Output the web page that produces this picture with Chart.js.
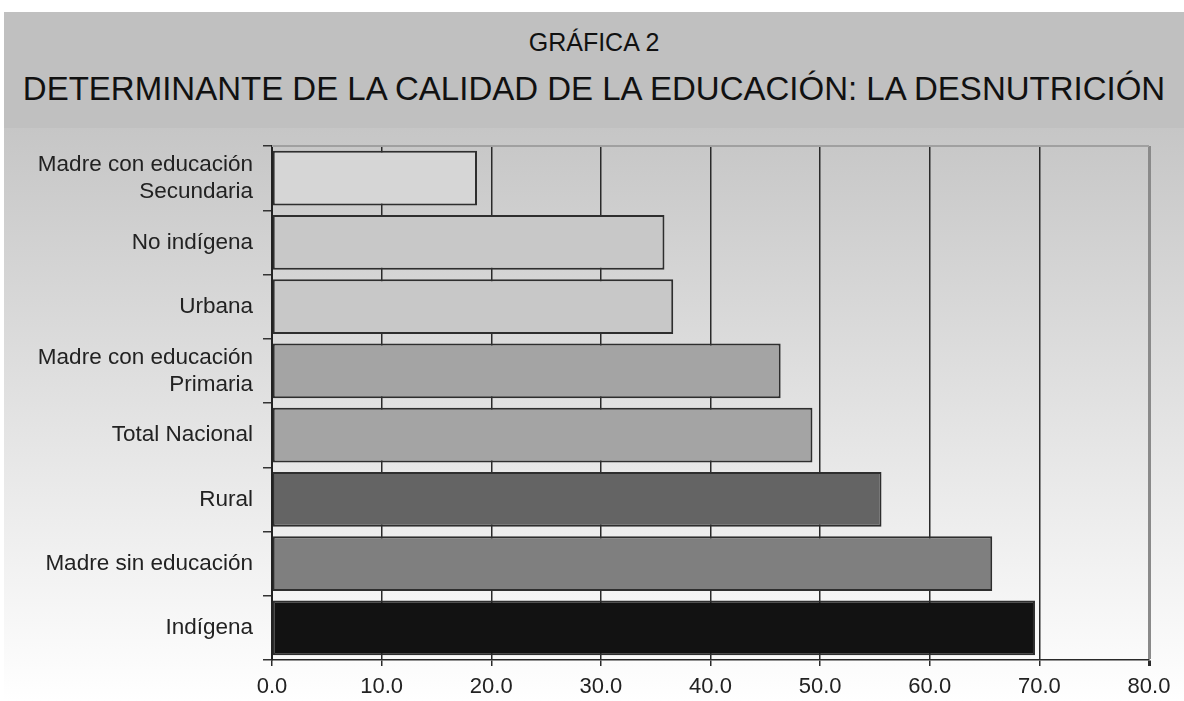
<!DOCTYPE html>
<html>
<head>
<meta charset="utf-8">
<script src="https://cdn.jsdelivr.net/npm/chart.js@4.4.1/dist/chart.umd.min.js"></script>
<style>
  html, body { margin: 0; padding: 0; background: #ffffff; }
  body { width: 1184px; height: 701px; position: relative; overflow: hidden; font-family: "Liberation Sans", Arial, sans-serif; }
  #header { position: absolute; left: 4px; top: 12px; width: 1180px; height: 116px; background: #c0c0c0; color: #111; text-align: center; }
  #t1 { position: absolute; left: 0; right: 0; top: 15px; font-size: 25px; line-height: 30px; }
  #t2 { position: absolute; left: 0; right: 0; top: 59px; font-size: 33px; line-height: 36px; }
  #wrap { position: absolute; left: 4px; top: 128px; width: 1180px; height: 573px; background: linear-gradient(#c6c6c6, #ffffff); }
  canvas { position: absolute; left: -4px; top: 0; }
</style>
</head>
<body>
<div id="header">
  <div id="t1">GRÁFICA 2</div>
  <div id="t2">DETERMINANTE DE LA CALIDAD DE LA EDUCACIÓN: LA DESNUTRICIÓN</div>
</div>
<div id="wrap"><canvas id="c" width="1184" height="573"></canvas></div>
<script>
const categories = [
  ["Madre con educación", "Secundaria"],
  "No indígena",
  "Urbana",
  ["Madre con educación", "Primaria"],
  "Total Nacional",
  "Rural",
  "Madre sin educación",
  "Indígena"
];
const values = [18.7, 35.8, 36.6, 46.4, 49.3, 55.6, 65.7, 69.6];
const barColors = ["#d6d6d6", "#c8c8c8", "#c8c8c8", "#a4a4a4", "#a4a4a4", "#646464", "#7f7f7f", "#121212"];
const xTicks = [0, 10, 20, 30, 40, 50, 60, 70, 80];

const topBorder = {
  id: 'topBorder',
  beforeDatasetsDraw(chart) {
    const { ctx, chartArea } = chart;
    ctx.save();
    ctx.strokeStyle = '#a0a0a0';
    ctx.lineWidth = 2;
    ctx.beginPath();
    ctx.moveTo(chartArea.left, chartArea.top);
    ctx.lineTo(chartArea.right, chartArea.top);
    ctx.stroke();
    ctx.restore();
  }
};

new Chart(document.getElementById('c'), {
  type: 'bar',
  data: {
    labels: categories,
    datasets: [{
      data: values,
      backgroundColor: barColors,
      borderColor: '#2e2e2e',
      borderWidth: 2,
      borderSkipped: false,
      barPercentage: 0.85,
      categoryPercentage: 1.0
    }]
  },
  options: {
    indexAxis: 'y',
    responsive: false,
    animation: false,
    layout: { padding: { top: 18, right: 35, left: 0, bottom: 0 } },
    plugins: { legend: { display: false }, tooltip: { enabled: false }, title: { display: false } },
    scales: {
      x: {
        min: 0, max: 80,
        afterBuildTicks(scale) { scale.ticks = xTicks.map(v => ({ value: v })); },
        afterFit(scale) { scale.height = 41; },
        ticks: {
          callback: v => Number(v).toFixed(1),
          color: '#222',
          font: { family: 'Liberation Sans', size: 22 },
          padding: 8,
          maxRotation: 0
        },
        grid: {
          color: c => (c.tick && c.tick.value === 80) ? '#8a8a8a' : '#2a2a2a',
          lineWidth: c => (c.tick && c.tick.value === 80) ? 3 : 1.5,
          tickColor: '#2a2a2a',
          tickLength: 6,
          drawOnChartArea: true
        },
        border: { display: true, color: '#2a2a2a', width: 1.5 }
      },
      y: {
        afterFit(scale) { scale.width = 272; scale.paddingTop = 0; scale.paddingBottom = 0; },
        ticks: {
          color: '#222',
          font: { family: 'Liberation Sans', size: 22.5 },
          padding: 10
        },
        grid: {
          drawOnChartArea: false,
          offset: true,
          color: '#333',
          tickLength: 9,
          lineWidth: 1.5
        },
        border: { display: true, color: '#222', width: 2 }
      }
    }
  },
  plugins: [topBorder]
});
</script>
</body>
</html>
